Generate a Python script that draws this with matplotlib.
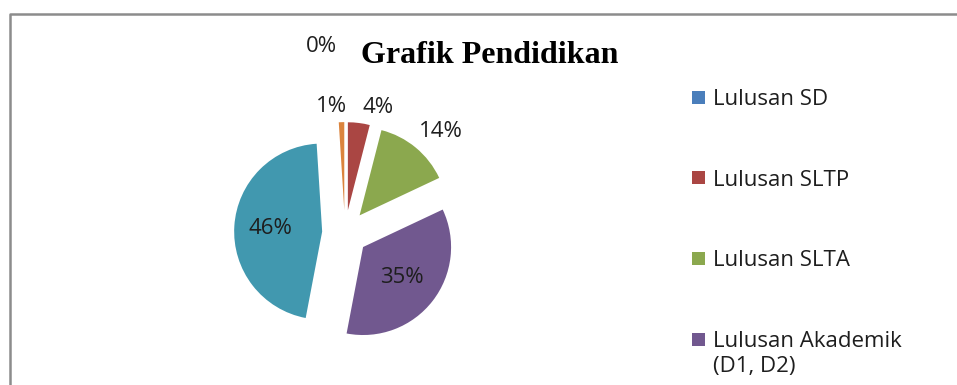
import matplotlib
matplotlib.use("Agg")
import matplotlib.pyplot as plt
from matplotlib.patches import Rectangle
from matplotlib.lines import Line2D
import numpy as np

# data (percent), clockwise from 12 o'clock
categories = ["Lulusan SD", "Lulusan SLTP", "Lulusan SLTA",
              "Lulusan Akademik\n(D1, D2)", "Lulusan Sarjana", "Lainnya"]
values = [0, 4, 14, 35, 46, 1]
colors = ["#4A7EBB", "#AA4643", "#8BA84E", "#71588F", "#4198AF", "#DB843D"]
n_legend = 4  # the rest of the legend is cut off in the original

W, H = 957, 385
fig = plt.figure(figsize=(W / 100, H / 100), dpi=100)

# pie geometry in pixels
cx, cy, rad = 345, 233, 88
left, right, top, bottom = 200, 490, 20, 380
ax = fig.add_axes([left / W, 1 - bottom / H, (right - left) / W, (bottom - top) / H])
wedges, _ = ax.pie(values, colors=colors, startangle=90, counterclock=False,
                   explode=[0.26] * len(values), radius=1,
                   wedgeprops=dict(linewidth=0))
ax.set_xlim((left - cx) / rad, (right - cx) / rad)
ax.set_ylim(-(bottom - cy) / rad, (cy - top) / rad)
ax.set_aspect("auto")
ax.axis("off")

# percent labels: (distance, ha, va, x nudge in px)
lab_pos = [(1.8, "right", "baseline", -8), (1.12, "left", "baseline", 2),
           (1.15, "left", "baseline", -5), (0.56, "center", "center", 0),
           (0.59, "center", "center", 0), (1.11, "right", "baseline", 6)]
total = sum(values)
for w, v, (r, ha, va, dx) in zip(wedges, values, lab_pos):
    ang = np.deg2rad((w.theta1 + w.theta2) / 2)
    x0, y0 = w.center
    ax.text(x0 + r * np.cos(ang) + dx / rad, y0 + r * np.sin(ang),
            "%d%%" % round(100 * v / total), ha=ha, va=va,
            fontsize=16, family="Open Sans", color="#1e1e1e")

fig.text(490 / W, 1 - 63 / H, "Grafik Pendidikan", ha="center", va="baseline",
         fontsize=23, fontweight="bold", family="Liberation Serif", color="black")

# legend drawn by hand so the square lines up with the first text line
for i in range(n_legend):
    yc = 97 + i * 80.7
    fig.add_artist(Rectangle((692 / W, 1 - (yc + 6.5) / H), 13 / W, 13 / H,
                             transform=fig.transFigure, facecolor=colors[i],
                             edgecolor="none"))
    for j, line in enumerate(categories[i].split("\n")):
        fig.text(713 / W, 1 - (yc + 8 + 25 * j) / H, line, ha="left",
                 va="baseline", fontsize=16, family="Open Sans", color="#1e1e1e")

# chart area border (runs off the right and bottom edges)
fig.add_artist(Line2D([10 / W, 10 / W, 1.05], [-0.05, 1 - 14 / H, 1 - 14 / H],
                      transform=fig.transFigure, color="#8C8C8C", lw=1.8))

fig.savefig("out.png", dpi=100)
